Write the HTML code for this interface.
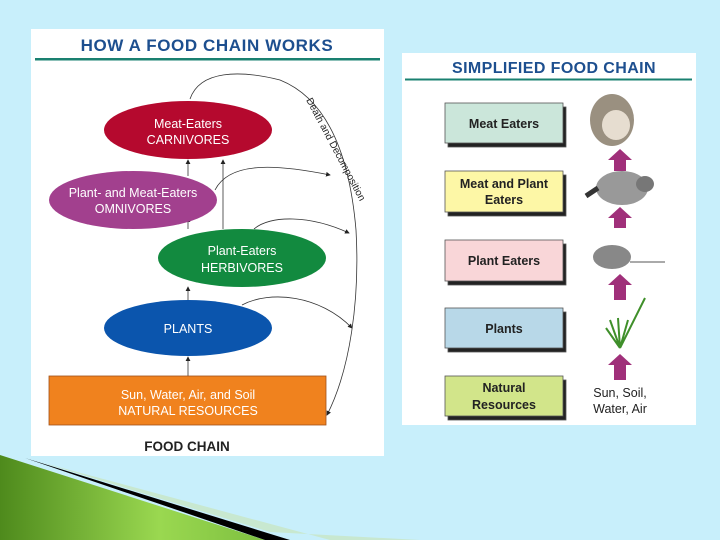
<!DOCTYPE html><html><head><style>body{margin:0;background:#c8effb;}svg{display:block}</style></head><body>
<svg width="720" height="540" xmlns="http://www.w3.org/2000/svg" font-family="Liberation Sans, sans-serif">
<defs><marker id="a" markerWidth="6" markerHeight="6" refX="5" refY="3" orient="auto"><path d="M0,0L6,3L0,6z" fill="#222"/></marker>
<linearGradient id="g" x1="0" y1="0" x2="1" y2="0"><stop offset="0" stop-color="#4e8a1c"/><stop offset="0.6" stop-color="#9ad850"/><stop offset="1" stop-color="#7ec040"/></linearGradient></defs>
<rect x="31" y="29" width="353" height="427" fill="#fff"/>
<text x="207" y="51" text-anchor="middle" font-size="17" font-weight="bold" letter-spacing="0.6" fill="#1d4f8f">HOW A FOOD CHAIN WORKS</text>
<rect x="35" y="58" width="345" height="2.5" fill="#1a8070"/>
<g fill="none" stroke="#333" stroke-width="0.8">
<path d="M190,99 C200,70 240,70 280,80 C330,100 350,160 356,230 C360,300 350,370 327,415" marker-end="url(#a)"/>
<path d="M215,190 C230,160 280,165 330,175" marker-end="url(#a)"/>
<path d="M254,229 C270,215 310,215 349,233" marker-end="url(#a)"/>
<path d="M242,305 C270,290 320,295 352,328" marker-end="url(#a)"/>
<path d="M188,176 V160" marker-end="url(#a)"/><path d="M188,229 V218" marker-end="url(#a)"/>
<path d="M223,229 V160" marker-end="url(#a)"/><path d="M188,300 V287" marker-end="url(#a)"/>
<path d="M188,376 V357" marker-end="url(#a)"/>
</g>
<ellipse cx="188" cy="130" rx="84" ry="29" fill="#b5092e"/>
<ellipse cx="133" cy="200" rx="84" ry="29" fill="#a2408e"/>
<ellipse cx="242" cy="258" rx="84" ry="29" fill="#128a3f"/>
<ellipse cx="188" cy="328" rx="84" ry="28" fill="#0b55ad"/>
<rect x="49" y="376" width="277" height="49" fill="#f0821e" stroke="#a0501a" stroke-width="0.8"/>
<g fill="#fff" font-size="12.5" text-anchor="middle">
<text x="188" y="128">Meat-Eaters</text><text x="188" y="144">CARNIVORES</text>
<text x="133" y="197">Plant- and Meat-Eaters</text><text x="133" y="213">OMNIVORES</text>
<text x="242" y="255">Plant-Eaters</text><text x="242" y="272">HERBIVORES</text>
<text x="188" y="333">PLANTS</text>
<text x="188" y="399">Sun, Water, Air, and Soil</text><text x="188" y="415">NATURAL RESOURCES</text>
</g>
<text transform="translate(306,100) rotate(62)" font-size="10" fill="#222">Death and Decomposition</text>
<text x="187" y="451" text-anchor="middle" font-size="13.5" font-weight="bold" fill="#222">FOOD CHAIN</text>
<rect x="402" y="53" width="294" height="372" fill="#fff"/>
<text x="554" y="73" text-anchor="middle" font-size="16" font-weight="bold" letter-spacing="0.4" fill="#1d4f8f">SIMPLIFIED FOOD CHAIN</text>
<rect x="405" y="78.5" width="287" height="2" fill="#1a8070"/>
<g stroke="#555" stroke-width="0.8">
<rect x="448" y="107" width="118" height="40" fill="#222"/><rect x="445" y="103" width="118" height="40" fill="#cbe6da"/>
<rect x="448" y="175" width="118" height="41" fill="#222"/><rect x="445" y="171" width="118" height="41" fill="#fdf7a6"/>
<rect x="448" y="244" width="118" height="41" fill="#222"/><rect x="445" y="240" width="118" height="41" fill="#f9d6d8"/>
<rect x="448" y="312" width="118" height="40" fill="#222"/><rect x="445" y="308" width="118" height="40" fill="#b8d8e8"/>
<rect x="448" y="380" width="118" height="40" fill="#222"/><rect x="445" y="376" width="118" height="40" fill="#d2e58a"/>
</g>
<g font-size="12.5" font-weight="bold" fill="#222" text-anchor="middle">
<text x="504" y="128">Meat Eaters</text>
<text x="504" y="188">Meat and Plant</text><text x="504" y="204">Eaters</text>
<text x="504" y="265">Plant Eaters</text>
<text x="504" y="333">Plants</text>
<text x="504" y="392">Natural</text><text x="504" y="409">Resources</text>
</g>
<g font-size="12.5" fill="#222" text-anchor="middle"><text x="620" y="397">Sun, Soil,</text><text x="620" y="413">Water, Air</text></g>
<g fill="#a0307a">
<path d="M614,171V160h-6l12,-11l12,11h-6v11z"/>
<path d="M614,228V218h-6l12,-11l12,11h-6v10z"/>
<path d="M614,300V285h-6l12,-11l12,11h-6v15z"/>
<path d="M614,380V365h-6l12,-11l12,11h-6v15z"/>
</g>
<ellipse cx="612" cy="120" rx="22" ry="26" fill="#9a9080"/><ellipse cx="616" cy="125" rx="14" ry="15" fill="#e6ddd0"/>
<ellipse cx="622" cy="188" rx="26" ry="17" fill="#999"/><ellipse cx="645" cy="184" rx="9" ry="8" fill="#777"/>
<path d="M586,196 l12,-8" stroke="#333" stroke-width="5"/>
<ellipse cx="612" cy="257" rx="19" ry="12" fill="#888"/><path d="M630,262 h35" stroke="#555"/>
<path d="M620,348 l-10,-28 M620,348 l-2,-30 M620,348 l8,-28 M620,348 l25,-50 M620,348 l-14,-20" stroke="#3f8f2a" stroke-width="2" fill="none"/>
<path d="M0,455 L265,540 L0,540z" fill="url(#g)"/>
<path d="M40,462 L270,532 L420,540 L330,540z" fill="#c8e8d0"/>
<path d="M25,458 L290,540 L265,540z" fill="#000"/>
</svg></body></html>
